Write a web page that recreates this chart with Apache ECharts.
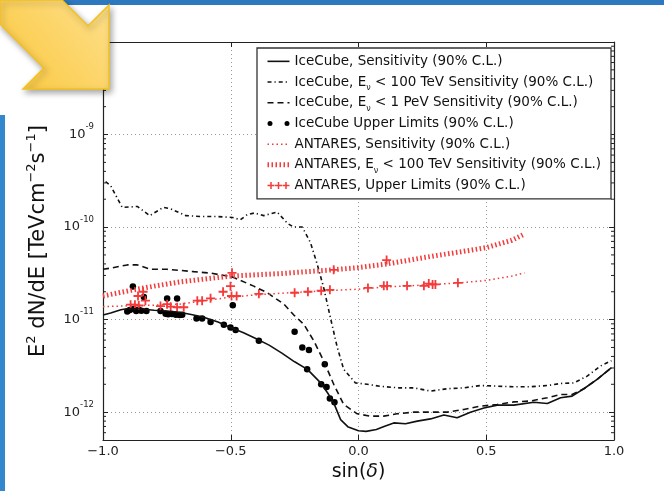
<!DOCTYPE html>
<html><head><meta charset="utf-8">
<script src="https://cdn.jsdelivr.net/npm/echarts@6/dist/echarts.min.js"></script>
<style>html,body{margin:0;padding:0;background:#fff}#c{width:664px;height:491px}</style>
</head><body><div id="c"></div>
<script>
const FONT = 'DejaVu Sans';

// IceCube, Sensitivity (solid)
const icSensS = [-1.0,-0.97,-0.93,-0.9,-0.85,-0.8,-0.75,-0.7,-0.65,-0.6,-0.55,-0.5,-0.45,-0.4,-0.35,-0.3,-0.25,-0.2,-0.15,-0.12,-0.097,-0.07,-0.04,0.0,0.03,0.07,0.1,0.138,0.184,0.23,0.282,0.334,0.386,0.438,0.491,0.543,0.608,0.686,0.739,0.791,0.836,0.882,0.934,0.99];
const icSensV = [1.12e-11,1.18e-11,1.28e-11,1.32e-11,1.3e-11,1.26e-11,1.24e-11,1.2e-11,1.13e-11,1.05e-11,9.4e-12,8.2e-12,7.2e-12,6.2e-12,5.3e-12,4.35e-12,3.5e-12,2.9e-12,2.1e-12,1.6e-12,1.26e-12,8.3e-13,6.9e-13,6.3e-13,6.2e-13,6.5e-13,7.0e-13,7.65e-13,7.5e-13,8.0e-13,8.45e-13,9.3e-13,8.7e-13,1.0e-12,1.11e-12,1.19e-12,1.19e-12,1.28e-12,1.24e-12,1.43e-12,1.49e-12,1.79e-12,2.26e-12,3.02e-12];

// IceCube, E < 100 TeV (dash-dot)
const ic100S = [-0.99,-0.97,-0.925,-0.866,-0.817,-0.764,-0.736,-0.677,-0.618,-0.553,-0.494,-0.462,-0.436,-0.407,-0.371,-0.318,-0.277,-0.254,-0.22,-0.188,-0.162,-0.136,-0.11,-0.083,-0.058,-0.012,0.034,0.086,0.158,0.216,0.282,0.347,0.411,0.477,0.543,0.608,0.673,0.739,0.791,0.843,0.895,0.947,0.99];
const ic100V = [3.1e-10,2.8e-10,1.63e-10,1.67e-10,1.33e-10,1.63e-10,1.58e-10,1.33e-10,1.3e-10,1.3e-10,1.27e-10,1.2e-10,1.36e-10,1.42e-10,1.33e-10,1.45e-10,1.09e-10,1.0e-10,1.0e-10,6.8e-11,4.0e-11,2.2e-11,1.05e-11,5.0e-12,2.9e-12,2.07e-12,2.0e-12,1.9e-12,1.83e-12,1.83e-12,1.69e-12,1.79e-12,1.83e-12,1.94e-12,1.91e-12,1.88e-12,1.88e-12,1.94e-12,2.04e-12,2.07e-12,2.45e-12,3.15e-12,3.6e-12];

// IceCube, E < 1 PeV (dashed)
const ic1PS = [-1.0,-0.97,-0.905,-0.866,-0.814,-0.749,-0.697,-0.645,-0.579,-0.514,-0.488,-0.41,-0.357,-0.292,-0.253,-0.214,-0.175,-0.136,-0.097,-0.058,-0.005,0.047,0.099,0.151,0.216,0.282,0.347,0.412,0.477,0.543,0.608,0.673,0.739,0.791,0.836,0.882,0.934,0.99];
const ic1PV = [3.5e-11,3.6e-11,3.9e-11,3.9e-11,3.5e-11,3.5e-11,3.4e-11,3.3e-11,3.18e-11,2.96e-11,2.85e-11,2.3e-11,1.95e-11,1.47e-11,1.12e-11,8.9e-12,5.9e-12,3.57e-12,2.0e-12,1.21e-12,9.6e-13,9.05e-13,9.05e-13,9.6e-13,1.0e-12,1.0e-12,1.0e-12,1.07e-12,1.16e-12,1.21e-12,1.29e-12,1.32e-12,1.43e-12,1.55e-12,1.55e-12,1.79e-12,2.26e-12,3.02e-12];

// IceCube Upper Limits (dots)
const icULS = [-0.883,-0.840,-0.749,-0.710,-0.492,-0.905,-0.895,-0.88,-0.87,-0.86,-0.85,-0.83,-0.775,-0.755,-0.745,-0.73,-0.715,-0.70,-0.69,-0.634,-0.612,-0.579,-0.527,-0.501,-0.481,-0.390,-0.250,-0.220,-0.194,-0.201,-0.132,-0.146,-0.125,-0.112,-0.094];
const icULV = [2.28e-11,1.76e-11,1.69e-11,1.69e-11,1.43e-11,1.22e-11,1.27e-11,1.3e-11,1.24e-11,1.28e-11,1.25e-11,1.24e-11,1.24e-11,1.16e-11,1.14e-11,1.15e-11,1.13e-11,1.12e-11,1.13e-11,1.03e-11,1.03e-11,9.4e-12,8.8e-12,8.2e-12,7.7e-12,5.9e-12,7.4e-12,5.0e-12,4.7e-12,2.9e-12,3.3e-12,2.0e-12,1.87e-12,1.4e-12,1.28e-12];

// ANTARES, Sensitivity (thin dotted) and E < 100 TeV (thick dotted)
const anS = [-1.0,-0.9,-0.8,-0.7,-0.6,-0.5,-0.4,-0.3,-0.2,-0.1,0.0,0.1,0.2,0.3,0.4,0.5,0.6,0.65];
const anSensV = [1.38e-11,1.41e-11,1.43e-11,1.47e-11,1.6e-11,1.75e-11,1.85e-11,1.93e-11,2.0e-11,2.07e-11,2.13e-11,2.25e-11,2.32e-11,2.4e-11,2.5e-11,2.65e-11,2.95e-11,3.2e-11];
const an100V = [1.8e-11,2.05e-11,2.3e-11,2.55e-11,2.75e-11,2.95e-11,3.05e-11,3.15e-11,3.3e-11,3.45e-11,3.65e-11,3.95e-11,4.4e-11,4.9e-11,5.4e-11,6.0e-11,7.2e-11,8.4e-11];

// ANTARES Upper Limits (crosses)
const anULS = [-0.892,-0.875,-0.863,-0.843,-0.834,-0.86,-0.775,-0.749,-0.735,-0.71,-0.684,-0.631,-0.612,-0.579,-0.530,-0.501,-0.495,-0.497,-0.477,-0.390,-0.250,-0.198,-0.146,-0.112,-0.097,0.037,0.099,0.112,0.110,0.190,0.256,0.275,0.29,0.301,0.389];
const anULV = [1.45e-11,1.45e-11,1.8e-11,2.0e-11,1.6e-11,1.42e-11,1.4e-11,1.47e-11,1.38e-11,1.36e-11,1.36e-11,1.6e-11,1.6e-11,1.7e-11,2.0e-11,2.3e-11,3.2e-11,1.8e-11,1.8e-11,1.9e-11,1.95e-11,2.0e-11,2.05e-11,2.1e-11,3.45e-11,2.2e-11,2.32e-11,2.32e-11,4.4e-11,2.32e-11,2.32e-11,2.45e-11,2.4e-11,2.4e-11,2.5e-11];

// Axis ticks
const xMin = -1.0, xMax = 1.0, xInterval = 0.5;
const yMin = 5e-13, yMax = 1e-8;
const minorMult = [2,3,4,5,6,7,8,9];
const minorDecades = [-13,-12,-11,-10,-9];

const zip = (a, b) => a.map((v, i) => [v, b[i]]);
const minorVals = [];
minorDecades.forEach(d => minorMult.forEach(m => { const v = m * Math.pow(10, d); if (v > yMin && v < yMax) minorVals.push(v); }));

const names = [
  'IceCube, Sensitivity (90% C.L.)',
  'IceCube, Eν < 100 TeV Sensitivity (90% C.L.)',
  'IceCube, Eν < 1 PeV Sensitivity (90% C.L.)',
  'IceCube Upper Limits (90% C.L.)',
  'ANTARES, Sensitivity (90% C.L.)',
  'ANTARES, Eν < 100 TeV Sensitivity (90% C.L.)',
  'ANTARES, Upper Limits (90% C.L.)'
];
const RED = '#f43a3a';
const crossPath = 'path://M4,0H6V4H10V6H6V10H4V6H0V4H4Z';
const dotsIcon = 'path://M0,0M22,7M0,3.5a2.5,2.5 0 1,1 5,0a2.5,2.5 0 1,1 -5,0zM17,3.5a2.5,2.5 0 1,1 5,0a2.5,2.5 0 1,1 -5,0z';
const crossIcon = 'path://M2.75,0h1.5v2.75h2.75v1.5h-2.75v2.75h-1.5v-2.75h-2.75v-1.5h2.75zM10.25,0h1.5v2.75h2.75v1.5h-2.75v2.75h-1.5v-2.75h-2.75v-1.5h2.75zM17.75,0h1.5v2.75h2.75v1.5h-2.75v2.75h-1.5v-2.75h-2.75v-1.5h2.75z';

const chart = echarts.init(document.getElementById('c'), null, {renderer: 'canvas'});

const yLabelFmt = v => {
  const l = Math.log10(v), e = Math.round(l);
  if (Math.abs(l - e) > 1e-6 || e === -8) return '';
  return '{b|10}{s|' + e + '}';
};
const noSym = {opacity: 0};

chart.setOption({
  animation: false,
  backgroundColor: '#fff',
  grid: {left: 103, right: 50, top: 42, bottom: 51, containLabel: false},
  legend: {
    orient: 'vertical', left: 257, top: 48,
    itemWidth: 22, itemHeight: 7, itemGap: 0, itemTextGap: 18,
    padding: [3, 10, 3, 8],
    borderColor: '#333', borderWidth: 1.3, backgroundColor: '#fff',
    selectedMode: false,
    textStyle: {fontFamily: FONT, fontSize: 13.5, color: '#111', lineHeight: 20.7,
      rich: {sub: {fontFamily: FONT, fontSize: 8, color: '#111', verticalAlign: 'bottom', lineHeight: 13}}},
    formatter: n => n.replace('Eν', 'E{sub|ν}'),
    data: [
      {name: names[0], itemStyle: noSym, lineStyle: {width: 1.6}},
      {name: names[1], itemStyle: noSym, lineStyle: {width: 1.6}},
      {name: names[2], itemStyle: noSym, lineStyle: {width: 1.6}},
      {name: names[3], icon: dotsIcon},
      {name: names[4], itemStyle: noSym, lineStyle: {width: 1.5}},
      {name: names[5], itemStyle: noSym, lineStyle: {width: 5}},
      {name: names[6], icon: crossIcon}
    ]
  },
  xAxis: [{
    type: 'value', min: xMin, max: xMax, interval: xInterval,
    name: 'sin({i|δ})', nameLocation: 'middle', nameGap: 21,
    nameTextStyle: {fontFamily: FONT, fontSize: 19, color: '#111', rich: {i: {fontFamily: FONT, fontSize: 19, fontStyle: 'italic', color: '#111'}}},
    axisLine: {show: true, onZero: false, lineStyle: {color: '#222', width: 1.2}},
    axisTick: {show: true, inside: true, length: 5, lineStyle: {color: '#222'}},
    axisLabel: {fontFamily: FONT, fontSize: 13, color: '#222', margin: 5,
      formatter: v => v.toFixed(1).replace('-', '−')},
    splitLine: {show: true, lineStyle: {color: '#999', type: [1, 3], width: 1}}
  }, {
    type: 'value', position: 'top', min: xMin, max: xMax, interval: xInterval,
    axisLine: {show: true, onZero: false, lineStyle: {color: '#222', width: 1.2}},
    axisTick: {show: true, inside: true, length: 5, lineStyle: {color: '#222'}},
    axisLabel: {show: false}, splitLine: {show: false}
  }],
  yAxis: [{
    type: 'log', logBase: 10, min: yMin, max: yMax,
    name: 'E{sup|2} dN/dE [TeVcm{sup|−2}s{sup|−1}]', nameLocation: 'middle', nameGap: 47,
    nameTextStyle: {fontFamily: FONT, fontSize: 21, color: '#111', lineHeight: 28,
      rich: {sup: {fontFamily: FONT, fontSize: 13, color: '#111', verticalAlign: 'top', lineHeight: 14}}},
    axisLine: {show: true, onZero: false, lineStyle: {color: '#222', width: 1.2}},
    axisTick: {show: true, inside: true, length: 5, lineStyle: {color: '#222'}},
    axisLabel: {fontFamily: FONT, color: '#222', margin: 9, formatter: yLabelFmt,
      rich: {b: {fontFamily: FONT, fontSize: 13, color: '#222', lineHeight: 24},
             s: {fontFamily: FONT, fontSize: 8.5, color: '#222', verticalAlign: 'top', lineHeight: 9}}},
    splitLine: {show: true, lineStyle: {color: '#999', type: [1, 3], width: 1}}
  }, {
    type: 'log', logBase: 10, min: yMin, max: yMax, position: 'right',
    axisLine: {show: true, onZero: false, lineStyle: {color: '#222', width: 1.2}},
    axisTick: {show: true, inside: true, length: 5, lineStyle: {color: '#222'}},
    axisLabel: {show: false}, splitLine: {show: false}
  }],
  graphic: [
    {type: 'rect', z: 90, shape: {x: 0, y: 0, width: 664, height: 5}, style: {fill: '#2e78c0'}},
    {type: 'rect', z: 90, shape: {x: 0, y: 115, width: 5, height: 376}, style: {fill: '#3387cc'}},
    {type: 'polygon', z: 100,
      shape: {points: [[62,0],[88,26],[109,5],[109,89],[23,89],[44,68],[0,24],[0,0]]},
      style: {
        fill: new echarts.graphic.LinearGradient(1, 0, 0, 1, [{offset: 0, color: '#fee08c'}, {offset: 1, color: '#fac73c'}]),
        stroke: '#f4c11c', lineWidth: 1.5,
        shadowBlur: 6, shadowColor: 'rgba(0,0,0,0.35)', shadowOffsetX: 2, shadowOffsetY: 3
      }}
  ],
  series: [
    {type: 'custom', silent: true, clip: false, z: 5,
      data: minorVals.map(v => [xMin, v]),
      renderItem: (params, api) => {
        const v = api.value(1);
        const a = api.coord([xMin, v]), b = api.coord([xMax, v]);
        return {type: 'group', children: [
          {type: 'line', shape: {x1: a[0], y1: a[1], x2: a[0] + 3, y2: a[1]}, style: {stroke: '#222', lineWidth: 1}},
          {type: 'line', shape: {x1: b[0] - 3, y1: b[1], x2: b[0], y2: b[1]}, style: {stroke: '#222', lineWidth: 1}}
        ]};
      }},
    {name: names[0], type: 'line', data: zip(icSensS, icSensV), symbol: 'none', showSymbol: false,
      lineStyle: {color: '#111', width: 1.6}, itemStyle: {color: '#111'}},
    {name: names[1], type: 'line', data: zip(ic100S, ic100V), symbol: 'none', showSymbol: false,
      lineStyle: {color: '#111', width: 1.6, type: [4, 3, 1.2, 3]}, itemStyle: {color: '#111'}},
    {name: names[2], type: 'line', data: zip(ic1PS, ic1PV), symbol: 'none', showSymbol: false,
      lineStyle: {color: '#111', width: 1.6, type: [6, 4]}, itemStyle: {color: '#111'}},
    {name: names[3], type: 'scatter', data: zip(icULS, icULV), symbol: 'circle', symbolSize: 6.5,
      itemStyle: {color: '#000', opacity: 1}},
    {name: names[4], type: 'line', data: zip(anS, anSensV), symbol: 'none', showSymbol: false,
      lineStyle: {color: RED, width: 1.5, type: [1.5, 3]}, itemStyle: {color: RED}},
    {name: names[5], type: 'line', data: zip(anS, an100V), symbol: 'none', showSymbol: false,
      lineStyle: {color: RED, width: 5, type: [1.5, 2.5]}, itemStyle: {color: RED}},
    {name: names[6], type: 'scatter', data: zip(anULS, anULV), symbol: crossPath, symbolSize: 9,
      itemStyle: {color: RED, opacity: 1}}
  ]
});
</script></body></html>
